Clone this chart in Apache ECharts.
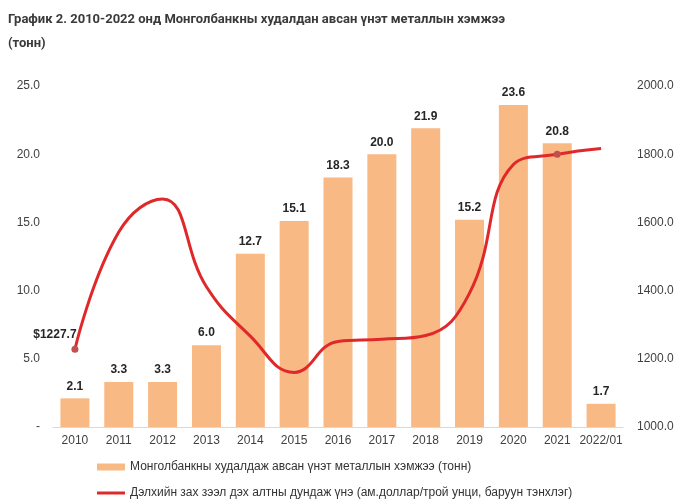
<!DOCTYPE html>
<html>
<head>
<meta charset="utf-8">
<script src="https://cdn.jsdelivr.net/npm/echarts@6/dist/echarts.min.js"></script>
<style>html,body{margin:0;padding:0;background:#fff}#c{width:680px;height:504px}</style>
</head>
<body>
<div id="c"></div>
<script>
var categories = ['2010','2011','2012','2013','2014','2015','2016','2017','2018','2019','2020','2021','2022/01'];
var metalTonnes = [2.1, 3.3, 3.3, 6.0, 12.7, 15.1, 18.3, 20.0, 21.9, 15.2, 23.6, 20.8, 1.7];
var goldPrice = [1227.7, 1571.5, 1668.9, 1411.2, 1266.4, 1160.1, 1250.8, 1257.1, 1268.5, 1392.6, 1769.6, 1799.6, 1816.8];
var leftTicks = {min: 0, max: 25, interval: 5};
var rightTicks = {min: 1000, max: 2000, interval: 200};
var barName = 'Монголбанкны худалдаж авсан үнэт металлын хэмжээ (тонн)';
var lineName = 'Дэлхийн зах зээл дэх алтны дундаж үнэ (ам.доллар/трой унци, баруун тэнхлэг)';
var titleText = 'График 2. 2010-2022 онд Монголбанкны худалдан авсан үнэт металлын хэмжээ\n(тонн)';

var lastIdx = goldPrice.length - 1;
var lineData = goldPrice.map(function (v, i) {
  var d = {value: v};
  if (i === 0 || i === lastIdx - 1) {
    d.symbol = 'circle';
    d.symbolSize = 7;
    d.itemStyle = {color: '#C0504D'};
  }
  if (i === 0) {
    d.label = {show: true, position: 'top', offset: [-20, 0]};
  } else if (i === lastIdx) {
    d.label = {show: true, position: 'top'};
  }
  return d;
});

var chart = echarts.init(document.getElementById('c'), null, {renderer: 'canvas'});
chart.setOption({
  animation: false,
  backgroundColor: '#fff',
  title: {
    text: titleText,
    left: 3, top: 3,
    textStyle: {fontFamily: 'Roboto', fontWeight: 'bold', fontSize: 13, color: '#3a3a3a', lineHeight: 24}
  },
  grid: {left: 53, right: 57, top: 86, bottom: 77, containLabel: false},
  legend: {
    orient: 'vertical',
    left: 97, top: 460, padding: 0,
    itemWidth: 28, itemHeight: 7, itemGap: 12,
    symbolKeepAspect: true,
    textStyle: {fontFamily: 'Liberation Sans', fontSize: 12, color: '#333', lineHeight: 14},
    data: [
      {name: barName, icon: 'rect'},
      {name: lineName, icon: 'path://M0,0 L28,0 L28,3 L0,3 Z'}
    ]
  },
  xAxis: {
    type: 'category',
    data: categories,
    axisLine: {lineStyle: {color: '#d9d9d9'}},
    axisTick: {show: false},
    axisLabel: {interval: 0, fontFamily: 'Liberation Sans', fontSize: 12, color: '#404040', margin: 8}
  },
  yAxis: [{
    type: 'value', min: leftTicks.min, max: leftTicks.max, interval: leftTicks.interval,
    splitLine: {show: false}, axisLine: {show: false}, axisTick: {show: false},
    axisLabel: {fontFamily: 'Liberation Sans', fontSize: 12, color: '#404040', margin: 13,
      formatter: function (v) { return v === 0 ? '-' : v.toFixed(1); }}
  }, {
    type: 'value', min: rightTicks.min, max: rightTicks.max, interval: rightTicks.interval,
    splitLine: {show: false}, axisLine: {show: false}, axisTick: {show: false},
    axisLabel: {fontFamily: 'Liberation Sans', fontSize: 12, color: '#404040', margin: 14,
      formatter: function (v) { return v.toFixed(1); }}
  }],
  series: [{
    name: barName,
    type: 'bar',
    data: metalTonnes,
    barWidth: 29,
    itemStyle: {color: '#F8B984'},
    label: {show: true, position: 'top', distance: 6, fontFamily: 'Liberation Sans', fontWeight: 'bold', fontSize: 12, color: '#262626',
      formatter: function (p) { return p.value.toFixed(1); }}
  }, {
    name: lineName,
    type: 'line',
    yAxisIndex: 1,
    data: lineData,
    smooth: 0.45,
    symbol: 'none',
    showSymbol: true,
    lineStyle: {color: '#E0282A', width: 3},
    itemStyle: {color: '#E0282A'},
    label: {show: false, fontFamily: 'Liberation Sans', fontWeight: 'bold', fontSize: 12, color: '#262626',
      formatter: function (p) { return '$' + p.value.toFixed(1); }},
    z: 3
  }]
});
</script>
</body>
</html>
